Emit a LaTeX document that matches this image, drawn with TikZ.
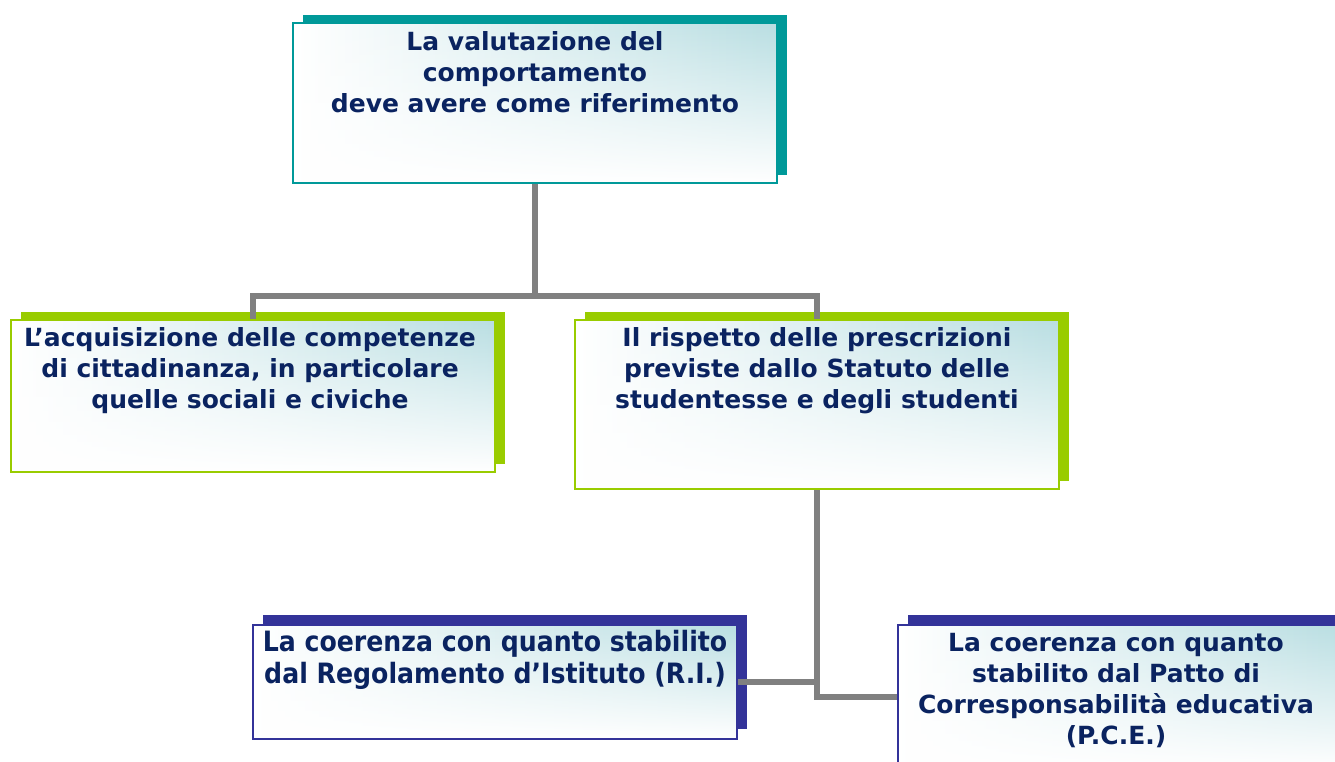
\documentclass[tikz,border=0pt]{standalone}
\usepackage{fontspec}
\setmainfont{DejaVu Sans}
\newfontfamily\condfont[FakeStretch=0.9]{DejaVu Sans}
\usetikzlibrary{shadows,fadings,calc}
\definecolor{tealc}{HTML}{009999}
\definecolor{greenc}{HTML}{99CC00}
\definecolor{bluec}{HTML}{333399}
\definecolor{navy}{HTML}{0A2360}
\definecolor{paleteal}{HTML}{B9DEE2}
\definecolor{connc}{HTML}{808080}
\tikzset{
  boxbase/.style={rectangle, inner sep=0pt, line width=2pt, left color=white, right color=paleteal,
    path picture={\fill[white, path fading=north] (path picture bounding box.south west) rectangle (path picture bounding box.north east);}},
  tealbox/.style={boxbase, draw=tealc, general shadow={fill=tealc, shadow xshift=10pt, shadow yshift=8pt}},
  greenbox/.style={boxbase, draw=greenc, general shadow={fill=greenc, shadow xshift=10pt, shadow yshift=8pt}},
  bluebox/.style={boxbase, draw=bluec, general shadow={fill=bluec, shadow xshift=10pt, shadow yshift=10pt}},
  lbl/.style={text=navy, font=\bfseries\fontsize{25}{31}\selectfont, align=center, anchor=north, inner sep=0pt},
  condlbl/.style={lbl, font=\condfont\bfseries\fontsize{28}{32}\selectfont},
  connector/.style={draw=connc, line width=6pt}
}
\begin{document}
\begin{tikzpicture}[x=1pt,y=-1pt]
\useasboundingbox (0,0) rectangle (1335,762);
\clip (0,0) rectangle (1335,762);
\node[tealbox, minimum width=484pt, minimum height=160pt] (top) at (535,103) {};
\node[greenbox, minimum width=484pt, minimum height=152pt] (left) at (253,396) {};
\node[greenbox, minimum width=484pt, minimum height=169pt] (mid) at (817,404.5) {};
\node[bluebox, minimum width=484pt, minimum height=114pt] (bl) at (495,682) {};
\node[bluebox, minimum width=442pt, minimum height=144pt] (br) at (1119,697) {};
\coordinate (j1) at ($(top.south)+(0,112)$);
\draw[connector] (top.south) -- (j1);
\draw[connector] (left.north) |- (j1) -| (mid.north);
\draw[connector] (mid.south) |- (br.west);
\draw[connector] (bl.east) -- (bl.east -| mid.south);
\node[lbl] (ttop) at ([yshift=-9pt]top.north) {La valutazione del\\comportamento\\deve avere come riferimento};
\node[lbl] (tleft) at ([xshift=-3pt,yshift=-8pt]left.north) {L’acquisizione delle competenze\\di cittadinanza, in particolare\\quelle sociali e civiche};
\node[lbl] (tmid) at ([yshift=-8pt]mid.north) {Il rispetto delle prescrizioni\\previste dallo Statuto delle\\studentesse e degli studenti};
\node[condlbl] (tbl) at ([yshift=-6pt]bl.north) {La coerenza con quanto stabilito\\dal Regolamento d’Istituto (R.I.)};
\node[lbl] (tbr) at ([xshift=-3pt,yshift=-9pt]br.north) {La coerenza con quanto\\stabilito dal Patto di\\Corresponsabilità educativa\\(P.C.E.)};
\end{tikzpicture}
\end{document}
